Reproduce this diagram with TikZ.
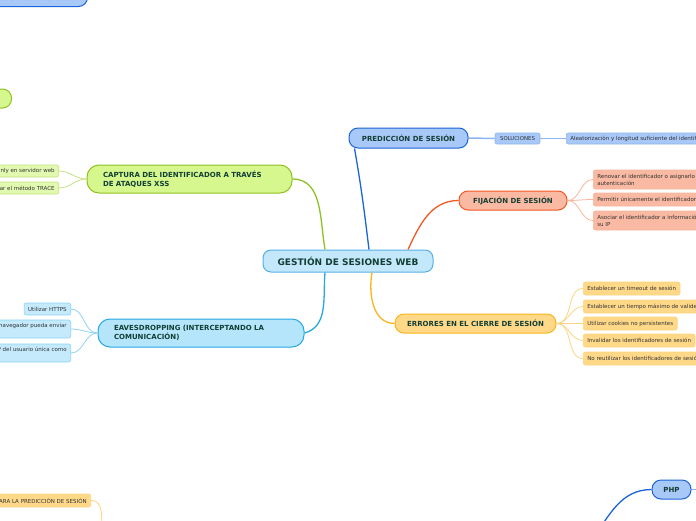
\documentclass[tikz,border=0pt]{standalone}
\usepackage{fontspec}
\setmainfont{DejaVu Sans}
\usetikzlibrary{positioning}
\definecolor{rootFill}{HTML}{C4E8FB}
\definecolor{rootLine}{HTML}{56AEE6}
\definecolor{predFill}{HTML}{A8C8F8}
\definecolor{predLine}{HTML}{1C64D9}
\definecolor{predSoft}{HTML}{8DB6EE}
\definecolor{fijFill}{HTML}{F9B9A2}
\definecolor{fijLine}{HTML}{F25822}
\definecolor{fijSoft}{HTML}{F7B69C}
\definecolor{errFill}{HTML}{FFD888}
\definecolor{errLine}{HTML}{F9B51B}
\definecolor{errSoft}{HTML}{FBD57F}
\definecolor{capFill}{HTML}{D6F68E}
\definecolor{capLine}{HTML}{8FC220}
\definecolor{capSoft}{HTML}{C3E27F}
\definecolor{eavFill}{HTML}{B5E5FB}
\definecolor{eavLine}{HTML}{27A8E4}
\definecolor{eavSoft}{HTML}{8ED3F3}
\definecolor{labelCol}{HTML}{123F35}
\definecolor{leafText}{HTML}{333333}

\begin{document}
\begin{tikzpicture}[
    x=1pt, y=1pt,
    % central topic
    rootNode/.style={
        rounded corners=8pt,
        draw=rootLine,
        fill=rootFill,
        line width=1pt,
        minimum width=170pt,
        minimum height=22pt,
        inner sep=0pt,
        text=labelCol,
        font=\fontsize{9}{11}\selectfont\bfseries
    },
    % main branches
    topicNode/.style={
        rounded corners=9pt,
        line width=1pt,
        inner sep=0pt,
        text=labelCol,
        font=\fontsize{7}{9}\selectfont\bfseries
    },
    % leaves
    leafNode/.style={
        rounded corners=2pt,
        line width=0.6pt,
        inner xsep=4pt,
        inner ysep=0pt,
        minimum height=13pt,
        text=leafText,
        font=\fontsize{5.5}{7}\selectfont
    },
    mainEdge/.style={line width=1.3pt},
    leafEdge/.style={line width=0.8pt}
]
    \useasboundingbox (0,0) rectangle (696,-520);
    \clip (0,0) rectangle (696,-520);

    % Central topic
    \node[rootNode] (gsw) at (348,-261) {GESTIÓN DE SESIONES WEB};

    % Prediccion de sesion
    \node[topicNode, draw=predLine, fill=predFill, minimum width=119pt, minimum height=20pt] (pred) at (408.5,-138) {PREDICCIÓN DE SESIÓN};
    \node[leafNode, draw=predSoft, fill=predFill, minimum width=45pt, minimum height=11pt, font=\fontsize{5.4}{7}\selectfont] (sol) at (517.5,-138.5) {SOLUCIONES};
    \node[leafNode, draw=predSoft, fill=predFill, minimum height=11pt, anchor=west] (alea) at (566,-138.5) {Aleatorización y longitud suficiente del identificador de sesión};

    % Fijacion de sesion
    \node[topicNode, draw=fijLine, fill=fijFill, minimum width=108pt, minimum height=19pt] (fij) at (513,-200.5) {FIJACIÓN DE SESIÓN};
    \node[leafNode, draw=fijSoft, fill=fijFill, anchor=west, minimum height=19pt, align=left] (fijRen) at (593,-179.5) {Renovar el identificador o asignarlo tras la\\autenticación};
    \node[leafNode, draw=fijSoft, fill=fijFill, anchor=west] (fijPer) at (593,-199.5) {Permitir únicamente el identificador generado por el servidor};
    \node[leafNode, draw=fijSoft, fill=fijFill, anchor=west, minimum height=19pt, align=left] (fijAso) at (593,-220.5) {Asociar el identificador a información del cliente como\\su IP};

    % Errores en el cierre de sesion
    \node[topicNode, draw=errLine, fill=errFill, minimum width=161pt, minimum height=19pt] (err) at (475.5,-323.5) {ERRORES EN EL CIERRE DE SESIÓN};
    \node[leafNode, draw=errSoft, fill=errFill, anchor=west] (errTim) at (583,-288.5) {Establecer un timeout de sesión};
    \node[leafNode, draw=errSoft, fill=errFill, anchor=west] (errMax) at (583,-306.5) {Establecer un tiempo máximo de validez};
    \node[leafNode, draw=errSoft, fill=errFill, anchor=west] (errCoo) at (583,-323.5) {Utilizar cookies no persistentes};
    \node[leafNode, draw=errSoft, fill=errFill, anchor=west] (errInv) at (583,-340.5) {Invalidar los identificadores de sesión};
    \node[leafNode, draw=errSoft, fill=errFill, anchor=west] (errReu) at (583,-358.5) {No reutilizar los identificadores de sesión};

    % Captura via XSS
    \node[topicNode, draw=capLine, fill=capFill, rounded corners=12pt, minimum height=28pt, text width=173pt, inner xsep=16pt, align=left] (cap) at (189.5,-179) {CAPTURA DEL IDENTIFICADOR A TRAVÉS\\DE ATAQUES XSS};
    \node[leafNode, draw=capSoft, fill=capFill!70!white, anchor=east, minimum height=12pt] (capOnl) at (59,-171) {Utilizar HttpOnly en servidor web};
    \node[leafNode, draw=capSoft, fill=capFill!70!white, anchor=east, minimum height=12pt] (capTra) at (59,-188) {Deshabilitar el método TRACE};

    % Eavesdropping
    \node[topicNode, draw=eavLine, fill=eavFill, rounded corners=12pt, minimum height=28pt, text width=174pt, inner xsep=16pt, align=left] (eav) at (201,-333) {EAVESDROPPING (INTERCEPTANDO LA\\COMUNICACIÓN)};
    \node[leafNode, draw=eavSoft, fill=eavFill!80!white, anchor=east, minimum height=12pt] (eavHtt) at (71,-309) {Utilizar HTTPS};
    \node[leafNode, draw=eavSoft, fill=eavFill!80!white, anchor=east, minimum height=18pt, align=left] (eavNav) at (71,-329) {Marcar la cookie como Secure para que el navegador pueda enviar\\solo por HTTPS};
    \node[leafNode, draw=eavSoft, fill=eavFill!80!white, anchor=east, minimum height=18pt, align=left] (eavUsu) at (71,-353) {No tomar la dirección IP del usuario única como\\garantía};

    % Branches cut off at the edges
    \node[topicNode, draw=predLine, fill=predFill, anchor=south east, minimum height=17pt, inner xsep=12pt] (topBox) at (88,-7) {ATAQUES DE SECUESTRO DE SESIÓN};
    \node[topicNode, draw=capLine, fill=capFill, anchor=east, minimum height=19pt, inner xsep=11pt] (limeBox) at (12,-98.5) {ROBO DE COOKIES};
    \node[leafNode, draw=errSoft, fill=errFill, anchor=east, minimum height=13pt] (predTools) at (91,-500.5) {HERRAMIENTAS PARA LA PREDICCIÓN DE SESIÓN};
    \node[topicNode, draw=predLine, fill=predFill, minimum width=39pt, minimum height=19pt] (php) at (671.5,-489.5) {PHP};
    \coordinate (phpEnd) at (592,-540);
    \coordinate (phpRight) at (700,-489.5);
    \coordinate (toolsEnd) at (102,-535);

    % Main edges
    \draw[mainEdge, draw=predLine] ([xshift=21pt]gsw.north) to[out=97,in=-80] ([xshift=6pt]pred.south west);
    \draw[mainEdge, draw=fijLine] ([xshift=60pt]gsw.north) to[out=65,in=180] (fij.west);
    \draw[mainEdge, draw=capLine] ([xshift=-23pt]gsw.north) to[out=100,in=0] (cap.east);
    \draw[mainEdge, draw=eavLine] ([xshift=-23pt]gsw.south) to[out=-95,in=15] (eav.east);
    \draw[mainEdge, draw=errLine] ([xshift=24pt]gsw.south) to[out=-100,in=180] (err.west);
    \draw[mainEdge, draw=predLine] (php.west) to[out=180,in=55] (phpEnd);

    % Leaf edges
    \draw[leafEdge, draw=predSoft, line width=1.5pt] (pred.east) -- (sol.west);
    \draw[leafEdge, draw=predSoft, line width=1.5pt] (sol.east) -- (alea.west);
    \draw[leafEdge, draw=predSoft, line width=1.5pt] (php.east) -- (phpRight);
    \foreach \leaf in {fijRen,fijPer,fijAso}
        \draw[leafEdge, draw=fijSoft] (fij.east) to[out=0,in=180] (\leaf.west);
    \foreach \leaf in {errTim,errMax,errCoo,errInv,errReu}
        \draw[leafEdge, draw=errSoft] (err.east) to[out=0,in=180] (\leaf.west);
    \foreach \leaf in {capOnl,capTra}
        \draw[leafEdge, draw=capSoft] (cap.west) to[out=180,in=0] (\leaf.east);
    \foreach \leaf in {eavHtt,eavNav,eavUsu}
        \draw[leafEdge, draw=eavSoft] (eav.west) to[out=180,in=0] (\leaf.east);
    \draw[leafEdge, draw=errSoft] (predTools.east) to[out=0,in=95] (toolsEnd);

\end{tikzpicture}
\end{document}
